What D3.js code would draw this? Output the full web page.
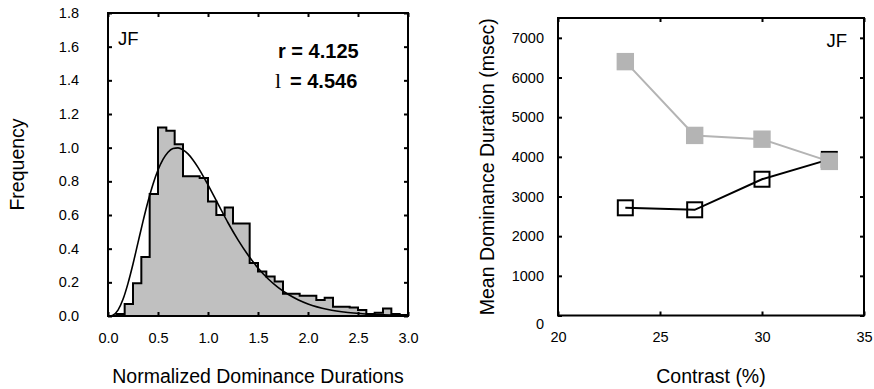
<!DOCTYPE html>
<html>
<head>
<meta charset="utf-8">
<script src="https://cdn.jsdelivr.net/npm/d3@7"></script>
<style>
  html, body { margin: 0; padding: 0; background: #fff; }
  svg { display: block; font-family: "Liberation Sans", Arial, sans-serif; }
</style>
</head>
<body>
<svg id="chart" width="874" height="389"></svg>
<script>
// ---- Left panel: histogram of normalized dominance durations (bin width 1/12) ----
const binWidth = 1 / 12;
const histFreq = [
  0, 0.012, 0.071, 0.194, 0.35, 0.725, 1.12, 1.10, 1.02, 0.83, 0.83, 0.82,
  0.68, 0.60, 0.645, 0.55, 0.55, 0.315, 0.265, 0.235, 0.205, 0.132, 0.132, 0.12,
  0.12, 0.095, 0.109, 0.055, 0.055, 0.05, 0.036, 0.012, 0.02, 0.045, 0.012, 0.006
];
// fitted density curve
const curveX = [0.03, 0.05, 0.1, 0.15, 0.2, 0.25, 0.3, 0.35, 0.4, 0.45, 0.5, 0.55, 0.6, 0.65, 0.7, 0.75,
  0.8, 0.85, 0.9, 0.95, 1.0, 1.1, 1.2, 1.3, 1.4, 1.5, 1.6, 1.7, 1.8, 1.9, 2.0, 2.2, 2.4, 2.7, 3.0];
const curveY = [0, 0.005, 0.035, 0.099, 0.194, 0.309, 0.436, 0.562, 0.680, 0.783, 0.867, 0.930, 0.973, 0.995,
  0.999, 0.987, 0.963, 0.927, 0.883, 0.833, 0.779, 0.666, 0.554, 0.452, 0.362, 0.285, 0.221, 0.170,
  0.129, 0.097, 0.072, 0.039, 0.021, 0.008, 0.003];
const histXTicks = [0, 0.5, 1.0, 1.5, 2.0, 2.5, 3.0];
const histYTicks = [0, 0.2, 0.4, 0.6, 0.8, 1.0, 1.2, 1.4, 1.6, 1.8];
const fitR = "4.125";
const fitL = "4.546";

// ---- Right panel: mean dominance duration vs contrast ----
const contrast = [23.3, 26.7, 30.0, 33.3];
const durationGray = [6400, 4540, 4445, 3885];
const durationBlack = [2715, 2665, 3435, 3935];
const contrastTicks = [20, 25, 30, 35];
const durationTicks = [0, 1000, 2000, 3000, 4000, 5000, 6000, 7000];

const svg = d3.select("#chart");
const tickFont = "14.5px";
const titleFont = "19.5px";

function frame(g, x0, y0, x1, y1) {
  g.append("rect").attr("x", x0).attr("y", y0)
    .attr("width", x1 - x0).attr("height", y1 - y0)
    .attr("fill", "none").attr("stroke", "#000").attr("stroke-width", 2);
}

function styleAxis(sel) {
  sel.select(".domain").remove();
  sel.selectAll("line").attr("stroke", "#000").attr("stroke-width", 2);
  sel.selectAll("text").attr("fill", "#000").style("font-size", tickFont)
    .style("font-family", "'Liberation Sans', Arial, sans-serif");
}

// ===== Left panel =====
{
  const L = 108, R = 408, T = 13, B = 316;
  const x = d3.scaleLinear().domain([0, 3]).range([L, R]);
  const y = d3.scaleLinear().domain([0, 1.8]).range([B, T]);
  const g = svg.append("g");

  const steps = histFreq.map((v, i) => [i * binWidth, v]);
  steps.push([3, histFreq[histFreq.length - 1]]);

  g.append("path").datum(steps)
    .attr("d", d3.area().curve(d3.curveStepAfter).x(d => x(d[0])).y0(y(0)).y1(d => y(d[1])))
    .attr("fill", "#c0c0c0");
  g.append("path").datum(steps)
    .attr("d", d3.line().curve(d3.curveStepAfter).x(d => x(d[0])).y(d => y(d[1])))
    .attr("fill", "none").attr("stroke", "#000").attr("stroke-width", 2);

  g.append("path").datum(curveX.map((v, i) => [v, curveY[i]]))
    .attr("d", d3.line().curve(d3.curveMonotoneX).x(d => x(d[0])).y(d => y(d[1])))
    .attr("fill", "none").attr("stroke", "#000").attr("stroke-width", 1.6);

  // inward ticks on all four sides
  g.append("g").attr("transform", `translate(0,${B})`)
    .call(d3.axisBottom(x).tickValues(histXTicks).tickSize(-4).tickFormat("")).call(styleAxis);
  g.append("g").attr("transform", `translate(0,${T})`)
    .call(d3.axisTop(x).tickValues(histXTicks).tickSize(-4).tickFormat("")).call(styleAxis);
  g.append("g").attr("transform", `translate(${L},0)`)
    .call(d3.axisLeft(y).tickValues(histYTicks).tickSize(-4).tickFormat("")).call(styleAxis);
  g.append("g").attr("transform", `translate(${R},0)`)
    .call(d3.axisRight(y).tickValues(histYTicks).tickSize(-4).tickFormat("")).call(styleAxis);

  // labels
  g.append("g").attr("transform", `translate(0,${B})`)
    .call(d3.axisBottom(x).tickValues(histXTicks).tickSize(0).tickPadding(17).tickFormat(d3.format(".1f")))
    .call(styleAxis);
  g.append("g").attr("transform", `translate(${L},0)`)
    .call(d3.axisLeft(y).tickValues(histYTicks).tickSize(0).tickPadding(29).tickFormat(d3.format(".1f")))
    .call(styleAxis);

  frame(g, L, T, R, B);

  g.append("text").attr("x", 118).attr("y", 45).style("font-size", "18.5px").text("JF");

  g.append("text").attr("x", 278).attr("y", 58).style("font-size", "20px").style("font-weight", "bold")
    .text(`r = ${fitR}`);
  const t2 = g.append("text").attr("x", 275).attr("y", 88);
  t2.append("tspan").style("font-family", "'Liberation Serif', 'Times New Roman', serif")
    .style("font-size", "22px").text("l");
  t2.append("tspan").attr("x", 290).style("font-size", "20px").style("font-weight", "bold")
    .text(`= ${fitL}`);

  g.append("text").attr("transform", `translate(24,${(T + B) / 2}) rotate(-90)`)
    .attr("text-anchor", "middle").style("font-size", titleFont).text("Frequency");
  g.append("text").attr("x", (L + R) / 2).attr("y", 383)
    .attr("text-anchor", "middle").style("font-size", titleFont).text("Normalized Dominance Durations");
}

// ===== Right panel =====
{
  const L = 558, R = 864, T = 18, B = 315.5;
  const x = d3.scaleLinear().domain([20, 35]).range([L, R]);
  const y = d3.scaleLinear().domain([0, 7500]).range([B, T]);
  const g = svg.append("g");

  g.append("g").attr("transform", `translate(0,${B})`)
    .call(d3.axisBottom(x).tickValues(contrastTicks).tickSize(-4).tickFormat("")).call(styleAxis);
  g.append("g").attr("transform", `translate(0,${T})`)
    .call(d3.axisTop(x).tickValues(contrastTicks).tickSize(-4).tickFormat("")).call(styleAxis);
  g.append("g").attr("transform", `translate(${L},0)`)
    .call(d3.axisLeft(y).tickValues(durationTicks).tickSize(-4).tickFormat("")).call(styleAxis);
  g.append("g").attr("transform", `translate(${R},0)`)
    .call(d3.axisRight(y).tickValues(durationTicks).tickSize(-4).tickFormat("")).call(styleAxis);

  g.append("g").attr("transform", `translate(0,${B})`)
    .call(d3.axisBottom(x).tickValues(contrastTicks).tickSize(0).tickPadding(16).tickFormat(d3.format("d")))
    .call(styleAxis);
  const yl = g.append("g").attr("transform", `translate(${L},0)`)
    .call(d3.axisLeft(y).tickValues(durationTicks).tickSize(0).tickPadding(14).tickFormat(d3.format("d")))
    .call(styleAxis);
  yl.selectAll(".tick").filter(d => d === 0).select("text").attr("dy", "0.9em");

  frame(g, L, T, R, B);

  const pts = s => contrast.map((c, i) => [c, s[i]]);
  const line = d3.line().x(d => x(d[0])).y(d => y(d[1]));

  // open squares series
  g.append("path").datum(pts(durationBlack)).attr("d", line)
    .attr("fill", "none").attr("stroke", "#000").attr("stroke-width", 2);
  g.selectAll(".sqb").data(pts(durationBlack)).join("rect")
    .attr("x", d => x(d[0]) - 7.5).attr("y", d => y(d[1]) - 7.5)
    .attr("width", 15).attr("height", 15)
    .attr("fill", "none").attr("stroke", "#000").attr("stroke-width", 2);

  // filled grey squares series
  g.append("path").datum(pts(durationGray)).attr("d", line)
    .attr("fill", "none").attr("stroke", "#b4b4b4").attr("stroke-width", 2);
  g.selectAll(".sqg").data(pts(durationGray)).join("rect")
    .attr("x", d => x(d[0]) - 8.7).attr("y", d => y(d[1]) - 8.7)
    .attr("width", 17.4).attr("height", 17.4)
    .attr("fill", "#b4b4b4");

  g.append("text").attr("x", 847).attr("y", 47).attr("text-anchor", "end")
    .style("font-size", "18.5px").text("JF");

  g.append("text").attr("transform", `translate(494,${(T + B) / 2}) rotate(-90)`)
    .attr("text-anchor", "middle").style("font-size", titleFont).text("Mean Dominance Duration (msec)");
  g.append("text").attr("x", (L + R) / 2).attr("y", 383)
    .attr("text-anchor", "middle").style("font-size", titleFont).text("Contrast (%)");
}
</script>
</body>
</html>
